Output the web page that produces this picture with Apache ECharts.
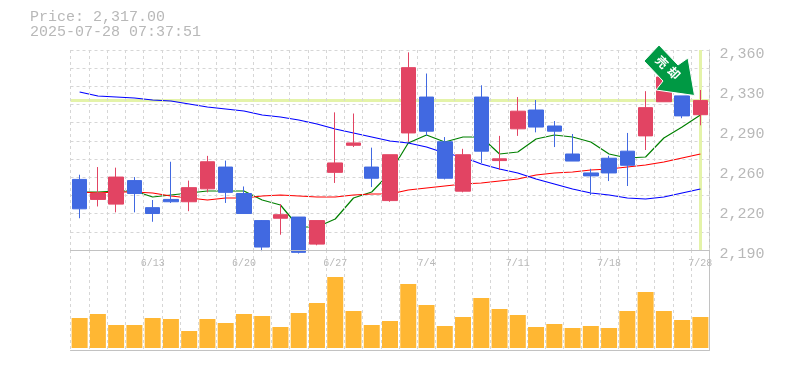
<!DOCTYPE html>
<html><head><meta charset="utf-8">
<style>html,body{margin:0;padding:0;background:#fff}#c{width:785px;height:370px}</style>
<script src="https://cdn.jsdelivr.net/npm/echarts@6/dist/echarts.min.js"></script>
</head><body><div id="c"></div>
<script>
const categories = ['6/9','6/10','6/11','6/12','6/13','6/16','6/17','6/18','6/19','6/20','6/23','6/24','6/25','6/26','6/27','6/30','7/1','7/2','7/3','7/4','7/7','7/8','7/9','7/10','7/11','7/14','7/15','7/16','7/17','7/18','7/22','7/23','7/24','7/25','7/28'];
const dateLabels = ['6/13','6/20','6/27','7/4','7/11','7/18','7/28'];
const priceLabels = [2190,2224,2258,2292,2326,2360];
const currentPrice = 2317;
const lastDate = '7/28';
// open, close, low, high
const candles = [
[2250,2225,2217,2254],[2233,2238,2227,2260.5],[2229,2252,2222,2260],[2249,2238,2222,2252],[2226,2221,2214,2232.5],
[2233,2231,2230,2265],[2231,2243,2223,2249],[2242,2265,2239,2270],[2260.5,2239,2230,2266],[2238,2221,2220.6,2244],
[2215,2192.5,2189,2215.5],[2217,2220,2203,2229],[2218,2188,2187,2218],[2195,2215,2194,2215],[2256,2264,2247,2307],
[2279,2281,2277.5,2306],[2260.5,2251,2243.5,2277],[2232,2271,2231,2271],[2289.5,2345,2282,2358],[2320,2291,2287,2340],
[2282,2251,2250,2286],[2240,2271,2239,2276],[2320,2274,2264,2330],[2266,2267.5,2258,2287],[2293,2308,2287,2320],
[2309,2294.5,2290,2317.5],[2295.4,2291,2277.5,2299.6],[2271.6,2265.6,2265.6,2288.6],[2255.5,2253,2236.7,2259],[2268,2255.5,2248.6,2270],
[2274,2262,2244.4,2289.5],[2287,2311,2275,2325],[2316,2337,2316,2343],[2321,2304,2302,2321],[2305,2317,2296,2326]
];
const ma5 = [2239.3,2239.3,2240.15,2240.15,2235.05,2236.75,2238.45,2240.15,2240.15,2240.15,2232.5,2228.25,2209.55,2209.55,2216.35,2234.2,2239.3,2255.45,2280.95,2287.75,2281.8,2286.05,2286.05,2271.6,2273.3,2284.35,2287.75,2286.05,2281.8,2271.6,2268.2,2269.05,2285.2,2294.55,2304.75];
const ma25 = [2239.3,2238.45,2239.3,2239.3,2238.45,2235.9,2234.2,2232.5,2234.2,2234.2,2235.9,2236.75,2235.9,2235.05,2235.05,2236.75,2237.6,2237.6,2241,2242.7,2244.4,2246.1,2246.95,2248.65,2250.35,2253.75,2255.45,2256.3,2258,2258.85,2260.55,2262.25,2264.8,2268.2,2271.6];
const ma75 = [2324.3,2320.9,2320.05,2319.2,2317.5,2316.65,2314.1,2311.55,2309.85,2308.15,2304.75,2303.05,2300.5,2297.1,2292.85,2289.45,2286.05,2282.65,2280.95,2277.55,2272.45,2269.05,2263.1,2258.85,2255.45,2250.35,2246.1,2241.85,2238.45,2236.75,2234.2,2233.35,2235.05,2238.45,2241.85];
const volumes = [30,34,23,23,30,29,17,29,25,34,32,21,35,45,71,37,23,27,64,43,22,31,50,39,33,21,24,20,22,20,37,56,37,28,31];
const priceText = 'Price: 2,317.00';
const timeText = '2025-07-28 07:37:51';
const arrowText = ['売','却'];

const GRAY = '#c2c2c2', GRID = '#d6d6d6', TXT = '#b8b8b8', HL = '#e4f3a9';
const MONO = '"Liberation Mono", monospace';
const fmt = v => (Math.round(v / 10) * 10).toLocaleString('en-US');
const gridTicks = Array.from({length: 12}, (_, i) => 2190 + i * 170 / 11);
const dash = {show: true, lineStyle: {color: GRID, type: [3, 3], width: 1}};

const chart = echarts.init(document.getElementById('c'), null, {renderer: 'canvas'});
chart.setOption({
  animation: false,
  backgroundColor: '#fff',
  grid: [
    {left: 70.5, width: 639, top: 50, height: 200},
    {left: 70.5, width: 639, top: 250, height: 100}
  ],
  xAxis: [
    {type: 'category', gridIndex: 0, data: categories, boundaryGap: true,
     axisLine: {show: true, onZero: false, lineStyle: {color: GRAY}}, axisTick: {show: false},
     splitLine: Object.assign({interval: 0}, dash),
     axisLabel: {show: true, color: TXT, fontFamily: MONO, fontSize: 10, margin: 8, hideOverlap: false,
       interval: i => dateLabels.includes(categories[i])}, z: 5},
    {type: 'category', gridIndex: 1, data: categories, boundaryGap: true,
     axisLine: {show: true, onZero: false, lineStyle: {color: GRAY}}, axisTick: {show: false},
     splitLine: Object.assign({interval: 0}, dash), axisLabel: {show: false}}
  ],
  yAxis: [
    {type: 'value', gridIndex: 0, position: 'right', min: 2190, max: 2360, scale: true,
     axisLine: {show: true, lineStyle: {color: GRAY}},
     axisTick: {show: false, customValues: gridTicks},
     splitLine: dash,
     axisLabel: {customValues: priceLabels, color: TXT, fontFamily: MONO, fontSize: 15, margin: 10,
       verticalAlign: 'top', lineHeight: 8, formatter: v => fmt(v)}},
    {type: 'value', gridIndex: 1, position: 'right', min: -2, max: 98,
     axisLine: {show: true, lineStyle: {color: GRAY}}, axisTick: {show: false},
     axisLabel: {show: false}, splitLine: {show: false}}
  ],
  series: [
    {type: 'line', xAxisIndex: 0, yAxisIndex: 0, data: [], z: 1, silent: true,
     markLine: {silent: true, symbol: 'none', label: {show: false}, animation: false, z: 1,
       lineStyle: {color: HL, width: 3, type: 'solid'},
       data: [{yAxis: currentPrice}, {xAxis: lastDate}]}},
    {type: 'candlestick', xAxisIndex: 0, yAxisIndex: 0, data: candles, barWidth: 15, z: 3,
     itemStyle: {color: '#e24463', color0: '#4169e1', borderColor: '#e24463', borderColor0: '#4169e1', borderWidth: 1}},
    {type: 'line', name: 'MA5', xAxisIndex: 0, yAxisIndex: 0, data: ma5, showSymbol: false, z: 2,
     lineStyle: {color: '#008000', width: 1.2}},
    {type: 'line', name: 'MA25', xAxisIndex: 0, yAxisIndex: 0, data: ma25, showSymbol: false, z: 2,
     lineStyle: {color: '#ff0000', width: 1.2}},
    {type: 'line', name: 'MA75', xAxisIndex: 0, yAxisIndex: 0, data: ma75, showSymbol: false, z: 2,
     lineStyle: {color: '#0000ff', width: 1.2}},
    {type: 'bar', xAxisIndex: 1, yAxisIndex: 1, data: volumes, barWidth: 16,
     itemStyle: {color: '#ffb733'}}
  ],
  graphic: [
    {type: 'text', left: 30, top: 10, z: 20, silent: true,
     style: {text: priceText + '\n' + timeText, fill: TXT, font: '15px ' + MONO, lineHeight: 15}},
    {type: 'polygon', z: 20, silent: true,
     shape: {points: [[659,45],[678,65],[688,58],[694.5,95.5],[656,90],[663,81],[644,61]]},
     style: {fill: '#009944', stroke: '#ffffff', lineWidth: 1}},
    {type: 'text', z: 21, silent: true, x: 662, y: 62, rotation: -Math.PI/4,
     style: {text: arrowText[0], fill: '#fff', font: 'bold 12px "Noto Sans CJK JP"', align: 'center', verticalAlign: 'middle'}},
    {type: 'text', z: 21, silent: true, x: 674, y: 73, rotation: -Math.PI/4,
     style: {text: arrowText[1], fill: '#fff', font: 'bold 12px "Noto Sans CJK JP"', align: 'center', verticalAlign: 'middle'}}
  ]
});
</script></body></html>
